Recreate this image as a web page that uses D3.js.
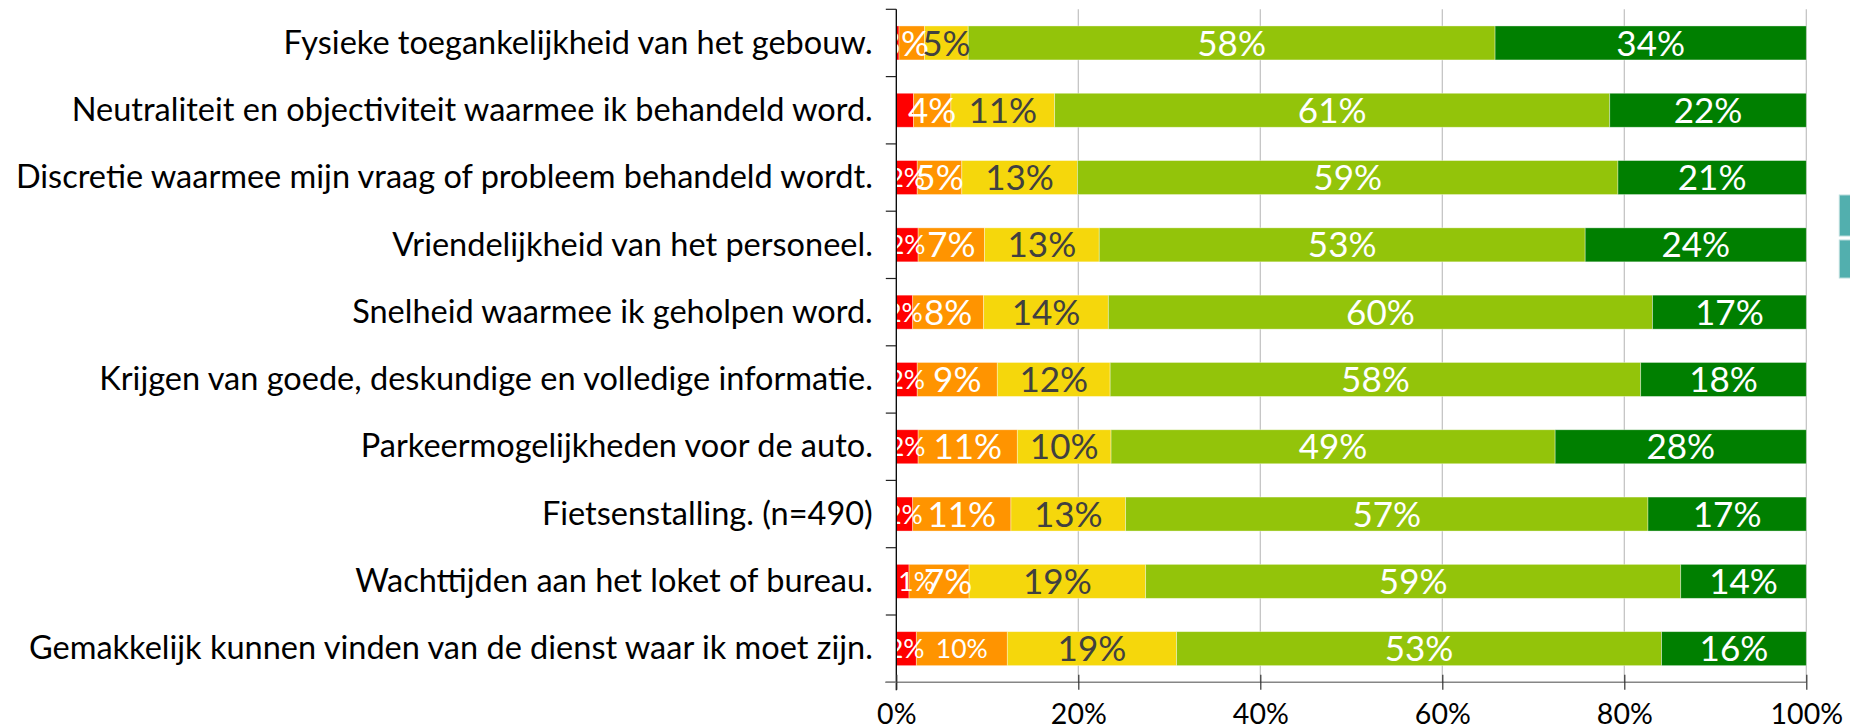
<!DOCTYPE html>
<html>
<head>
<meta charset="utf-8">
<script src="https://cdn.jsdelivr.net/npm/d3@7"></script>
<style>
  html, body { margin: 0; padding: 0; background: #fff; }
  svg { display: block; font-family: Lato, "Open Sans", sans-serif; }
</style>
</head>
<body>
<svg id="chart" width="1850" height="726"></svg>
<script>
// Survey items, top to bottom
const categories = [
  "Fysieke toegankelijkheid van het gebouw.",
  "Neutraliteit en objectiviteit waarmee ik behandeld word.",
  "Discretie waarmee mijn vraag of probleem behandeld wordt.",
  "Vriendelijkheid van het personeel.",
  "Snelheid waarmee ik geholpen word.",
  "Krijgen van goede, deskundige en volledige informatie.",
  "Parkeermogelijkheden voor de auto.",
  "Fietsenstalling. (n=490)",
  "Wachttijden aan het loket of bureau.",
  "Gemakkelijk kunnen vinden van de dienst waar ik moet zijn."
];

// Share of answers per item (%), from very dissatisfied to very satisfied
const zeerOntevreden = [0.3, 1.9, 2.3, 2.4, 1.8, 2.3, 2.4, 1.8, 1.4, 2.2];
const ontevreden     = [2.8, 4.1, 4.9, 7.3, 7.8, 8.8, 10.9, 10.8, 6.6, 10.0];
const neutraal       = [4.8, 11.4, 12.7, 12.6, 13.7, 12.4, 10.3, 12.6, 19.4, 18.6];
const tevreden       = [57.9, 61.0, 59.4, 53.4, 59.8, 58.3, 48.8, 57.4, 58.8, 53.3];
const zeerTevreden   = [34.2, 21.6, 20.7, 24.3, 16.9, 18.2, 27.6, 17.4, 13.8, 15.9];

const seriesKeys = ["zeerOntevreden", "ontevreden", "neutraal", "tevreden", "zeerTevreden"];
const seriesValues = [zeerOntevreden, ontevreden, neutraal, tevreden, zeerTevreden];

const xTicks = [0, 20, 40, 60, 80, 100];
const xTickLabels = ["0%", "20%", "40%", "60%", "80%", "100%"];

// Styling
const colors = ["#ff0000", "#ff9400", "#f5d70c", "#93c40a", "#007f00"];
const labelColors = ["#ffffff", "#ffffff", "#404040", "#ffffff", "#ffffff"];
const hiddenLabels = new Set(["0-0", "1-0"]);       // row-series pairs without a value label
const smallLabels = new Set(["9-1"]);               // extra small labels (besides the first series)
const labelNudge = { "0-1": -7, "8-0": 14, "8-1": 9 };

const rows = categories.map((c, i) => {
  const r = { category: c };
  seriesKeys.forEach((k, j) => { r[k] = seriesValues[j][i]; });
  return r;
});

const svg = d3.select("#chart");
const margin = { top: 9.3, right: 43.7, bottom: 43.7, left: 896.3 };
const W = 1850, H = 726;
const innerW = W - margin.left - margin.right;
const innerH = H - margin.top - margin.bottom;

const x = d3.scaleLinear().domain([0, 100]).range([0, innerW]);
const y = d3.scaleBand().domain(categories).range([0, innerH]).paddingInner(0.495).paddingOuter(0.2475);

const g = svg.append("g").attr("transform", `translate(${margin.left},${margin.top})`);

// Vertical gridlines
g.append("g")
  .selectAll("line")
  .data(xTicks.slice(1))
  .join("line")
  .attr("x1", d => x(d)).attr("x2", d => x(d))
  .attr("y1", 0).attr("y2", innerH)
  .attr("stroke", "#c0c0c0")
  .attr("stroke-width", 1.2);

const stack = d3.stack().keys(seriesKeys);
const stacked = stack(rows);

// Stacked bar segments
const layers = g.append("g")
  .selectAll("g")
  .data(stacked)
  .join("g")
  .attr("fill", (d, i) => colors[i]);

layers.selectAll("rect")
  .data(d => d)
  .join("rect")
  .attr("x", d => x(d[0]))
  .attr("width", d => x(d[1]) - x(d[0]))
  .attr("y", d => y(d.data.category))
  .attr("height", y.bandwidth())
  .attr("stroke", "#ffffff")
  .attr("stroke-opacity", 0.45)
  .attr("stroke-width", 0.8);

// Value labels, clipped to the plot area
svg.append("defs").append("clipPath").attr("id", "plotClip")
  .append("rect").attr("x", 0).attr("y", -margin.top).attr("width", innerW).attr("height", H);

const labelG = g.append("g").attr("clip-path", "url(#plotClip)");
stacked.forEach((layer, si) => {
  layer.forEach((d, ri) => {
    const key = `${ri}-${si}`;
    if (hiddenLabels.has(key)) return;
    const small = si === 0 || smallLabels.has(key);
    const cx = (x(d[0]) + x(d[1])) / 2 + (labelNudge[key] || 0);
    labelG.append("text")
      .attr("x", cx)
      .attr("y", y(d.data.category) + y.bandwidth() / 2)
      .attr("dy", "0.36em")
      .attr("text-anchor", "middle")
      .attr("font-size", small ? 26.5 : 35)
      .attr("fill", labelColors[si])
      .text(Math.round(seriesValues[si][ri]) + "%");
  });
});

// Category axis (left)
const yAxis = g.append("g");
yAxis.append("line")
  .attr("x1", 0).attr("x2", 0).attr("y1", 0).attr("y2", innerH + 8)
  .attr("stroke", "#000").attr("stroke-width", 1.3);
const boundaries = d3.range(categories.length + 1).map(i => i * y.step());
yAxis.selectAll("line.tick")
  .data(boundaries)
  .join("line")
  .attr("class", "tick")
  .attr("x1", -10.5).attr("x2", 0)
  .attr("y1", d => d).attr("y2", d => d)
  .attr("stroke", "#222").attr("stroke-width", 1.2);
yAxis.selectAll("text")
  .data(categories)
  .join("text")
  .attr("x", -23.5)
  .attr("y", d => y(d) + y.bandwidth() / 2 - 1)
  .attr("dy", "0.36em")
  .attr("text-anchor", "end")
  .attr("font-size", 32.5)
  .attr("fill", "#000")
  .text(d => d);

// Value axis (bottom)
const xAxisG = g.append("g").attr("transform", `translate(0,${innerH})`);
xAxisG.call(
  d3.axisBottom(x)
    .tickValues(xTicks)
    .tickFormat((d, i) => xTickLabels[i])
    .tickSize(7.5)
    .tickPadding(14)
);
xAxisG.select(".domain").remove();
xAxisG.insert("line", ":first-child")
  .attr("x1", -11).attr("x2", innerW)
  .attr("stroke", "#868686").attr("stroke-width", 1.5);
xAxisG.selectAll(".tick line")
  .attr("y1", -7.5)
  .attr("stroke", "#333").attr("stroke-width", 1.2);
xAxisG.selectAll(".tick text")
  .attr("font-family", "Lato, sans-serif")
  .attr("font-size", 28.5)
  .attr("fill", "#000");

// Legend swatches at the right edge
const legend = svg.append("g").attr("transform", `translate(${margin.left + innerW + 33},195)`);
legend.selectAll("rect")
  .data([0, 1])
  .join("rect")
  .attr("x", 0)
  .attr("y", d => d * 45)
  .attr("width", 20)
  .attr("height", d => d === 0 ? 41 : 38)
  .attr("fill", "#52afae")
  .attr("stroke", "#b8dcdb")
  .attr("stroke-width", 1);
</script>
</body>
</html>
